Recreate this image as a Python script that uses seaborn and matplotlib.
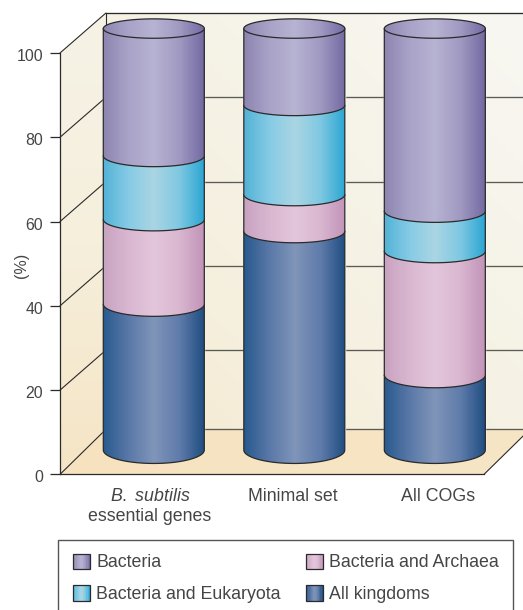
import numpy as np
import pandas as pd
import seaborn as sns
import matplotlib.pyplot as plt
from matplotlib.colors import LinearSegmentedColormap
from matplotlib.legend_handler import HandlerBase
from matplotlib.patches import PathPatch, Rectangle
from matplotlib.path import Path
from matplotlib.transforms import ScaledTranslation

groups = ["B. subtilis essential", "Minimal set", "All COGs"]
group_labels = ["$\\mathit{B.\\ subtilis}$\nessential genes", "Minimal set", "All COGs"]
all_kingdoms = [34.6, 51.9, 17.8]
bacteria_archaea = [20.1, 8.7, 29.4]
bacteria_eukaryota = [15.1, 21.2, 9.5]
bacteria = [30.2, 18.2, 43.3]
y_ticks = [0, 20, 40, 60, 80, 100]

# bottom to top
series = [
    ("All kingdoms", all_kingdoms, ["#285a8e", "#5a78a8", "#8095b9", "#5f7cab", "#1e4c80"]),
    ("Bacteria and Archaea", bacteria_archaea, ["#c8a3c1", "#d9b7d0", "#e3c6dc", "#d9b7d0", "#c192b8"]),
    ("Bacteria and Eukaryota", bacteria_eukaryota, ["#52b2d6", "#86cbe6", "#aad5e3", "#7fc8e2", "#28a5d2"]),
    ("Bacteria", bacteria, ["#8d85b0", "#a9a3c8", "#b7b3d2", "#a09ac2", "#7268a1"]),
]
legend_order = ["Bacteria", "Bacteria and Eukaryota", "Bacteria and Archaea", "All kingdoms"]

LINE = "#2a2a2a"
TEXT = "#454545"
W, H = 523, 610
FONT = 12.8

# perspective offsets, in axis units
CYL_DEPTH = 5.8
BACK_X = 0.327
BACK_Y = 9.5
FLOOR_Y = 10.7
XLIM = (-0.6676, 2.35)


class GradientHandler(HandlerBase):
    def __init__(self, colors):
        super().__init__()
        self.cmap = LinearSegmentedColormap.from_list("g", colors)

    def create_artists(self, legend, orig_handle, xdescent, ydescent, width, height, fontsize, trans):
        x0 = -xdescent + width * 0.1
        w = width * 0.9
        y0 = -ydescent
        artists = []
        n = 14
        for i in range(n):
            artists.append(Rectangle((x0 + w * i / n, y0), w / n + 0.2, height, fc=self.cmap((i + 0.5) / n),
                                     ec="none", transform=trans))
        artists.append(Rectangle((x0, y0), w, height, fc="none", ec=LINE, lw=0.9, transform=trans))
        return artists


def gradient_fill(ax, path, array, cmap, extent, zorder):
    patch = PathPatch(path, transform=ax.transData, fc="none", ec="none")
    ax.add_patch(patch)
    patch.set_clip_on(False)
    im = ax.imshow(array, cmap=cmap, extent=extent, aspect="auto", origin="lower", vmin=0, vmax=1,
                   interpolation="bilinear", zorder=zorder)
    im.set_clip_path(patch)
    im.set_clip_box(ax.figure.bbox)
    return im


def semi_height(level):
    # rims get flatter towards the top of the cylinder
    return (9.7 + 3.8 * (1 - level / 100)) / 4.214


sns.set_style("ticks")
plt.rcParams["font.family"] = ["Liberation Sans", "DejaVu Sans"]
plt.rcParams["mathtext.fontset"] = "custom"
plt.rcParams["mathtext.it"] = "Liberation Sans:italic"
plt.rcParams["mathtext.rm"] = "Liberation Sans"

fig = plt.figure(figsize=(W / 100, H / 100), dpi=100)
ax = fig.add_axes([60 / W, (H - 474.4) / H, 424 / W, 421.4 / H])

df = pd.DataFrame({"group": groups})
bottom = np.zeros(len(groups))
for name, values, stops in series:
    df["value"] = values
    sns.barplot(data=df, x="group", y="value", bottom=bottom + CYL_DEPTH, width=0.719, color=stops[2],
                saturation=1, zorder=3, ax=ax, errorbar=None)
    bottom = bottom + np.array(values)

ax.set_xlim(*XLIM)
ax.set_ylim(0, 100)
ax.set_autoscale_on(False)

# walls and floor
grid = np.linspace(0, 1, 64)
gx, gy = np.meshgrid(grid, grid)
x0, x1 = XLIM
bx0, bx1 = x0 + BACK_X, x1 + BACK_X
ext = (x0, bx1, 0, 100 + BACK_Y)

back_cmap = LinearSegmentedColormap.from_list("back", ["#f5e8cb", "#f5efdd", "#f6f3e8", "#f8f7f2"])
side_cmap = LinearSegmentedColormap.from_list("side", ["#f6e5c6", "#f5efdc", "#f5f2e6"])
floor_cmap = LinearSegmentedColormap.from_list("floor", ["#f6e2bf", "#f6e6c6"])

back = Path([(bx0, FLOOR_Y), (bx0, 100 + BACK_Y), (bx1, 100 + BACK_Y), (bx1, FLOOR_Y), (bx0, FLOOR_Y)])
side = Path([(x0, 0), (x0, 100), (bx0, 100 + BACK_Y), (bx0, FLOOR_Y), (x0, 0)])
floor = Path([(x0, 0), (x1, 0), (bx1, FLOOR_Y), (bx0, FLOOR_Y), (x0, 0)])
gradient_fill(ax, back, (gx * 0.5 + gy * 0.5), back_cmap, ext, 0.2)
gradient_fill(ax, side, gy, side_cmap, ext, 0.3)
gradient_fill(ax, floor, gx, floor_cmap, ext, 0.4)

for tick in y_ticks:
    far = FLOOR_Y if tick == 0 else tick + BACK_Y
    ax.plot([x0, bx0], [tick, far], color=LINE, lw=0.8, clip_on=False, zorder=1)
    ax.plot([bx0, bx1], [far, far], color="#5c5a55" if tick < 100 else LINE, lw=0.95, clip_on=False, zorder=1)
ax.plot([bx0, bx0], [FLOOR_Y, 100 + BACK_Y], color=LINE, lw=0.8, clip_on=False, zorder=1)
ax.plot([x1, bx1], [0, FLOOR_Y], color=LINE, lw=0.8, clip_on=False, zorder=1)

# cylinder segments drawn over the bars, bottom one first
ramp = np.linspace(0, 1, 256).reshape(1, -1)
theta = np.linspace(np.pi, 2 * np.pi, 60)
for k, ((name, values, stops), bars) in enumerate(zip(series, ax.containers)):
    cmap = LinearSegmentedColormap.from_list(name, stops)
    for bar in bars:
        bar.set_clip_on(False)
        left, w = bar.get_x(), bar.get_width()
        y_low, y_high = bar.get_y(), bar.get_y() + bar.get_height()
        arc = semi_height(y_low - CYL_DEPTH)
        xs = left + w / 2 + w / 2 * np.cos(theta)
        ys = y_low + arc * np.sin(theta)
        verts = list(zip(xs, ys)) + [(left + w, y_high), (left, y_high), (left, y_low)]
        path = Path(verts)
        gradient_fill(ax, path, ramp, cmap, (left, left + w, y_low - 6, y_high + 6), 4 + k * 2)
        outline = PathPatch(path, fc="none", ec=LINE, lw=0.9, zorder=5 + k * 2, joinstyle="round")
        ax.add_patch(outline)
        outline.set_clip_on(False)
        if k == len(series) - 1:
            # open top of the cylinder
            arc = semi_height(y_high - CYL_DEPTH)
            t = np.linspace(0, 2 * np.pi, 120)
            top = Path(np.column_stack([left + w / 2 + w / 2 * np.cos(t), y_high + arc * np.sin(t)]))
            gradient_fill(ax, top, ramp, cmap, (left, left + w, y_high - 6, y_high + 6), 20)
            rim = PathPatch(top, fc="none", ec=LINE, lw=0.9, zorder=21)
            ax.add_patch(rim)
            rim.set_clip_on(False)

# axes
sns.despine(ax=ax)
for side_name in ["left", "bottom"]:
    ax.spines[side_name].set_color(LINE)
    ax.spines[side_name].set_linewidth(0.9)
ax.set_yticks(y_ticks)
ax.set_xticks(range(len(groups)))
ax.set_xticklabels(group_labels, fontsize=FONT, color=TEXT, linespacing=1.25)
ax.tick_params(axis="y", length=7.2, width=0.9, color=LINE, labelsize=11.4, labelcolor=TEXT, pad=5)
ax.tick_params(axis="x", length=0, pad=9.5)
for label, shift in zip(ax.get_xticklabels(), [-3.8, -2, 3]):
    label.set_transform(label.get_transform() + ScaledTranslation(shift / 100, 0, fig.dpi_scale_trans))
for label in ax.get_yticklabels():
    label.set_transform(label.get_transform() + ScaledTranslation(0, -2 / 100, fig.dpi_scale_trans))
ax.set_xlabel("")
ax.set_ylabel("(%)", fontsize=11.6, color=TEXT, va="center")
ax.yaxis.set_label_coords(-39 / 424, (474.4 - 265) / 421.4)

# legend
stops_by_name = {name: stops for name, _, stops in series}
handles = [Rectangle((0, 0), 1, 1) for _ in legend_order]
handler_map = {h: GradientHandler(stops_by_name[n]) for h, n in zip(handles, legend_order)}
leg = fig.legend(handles, legend_order, handler_map=handler_map, ncol=2, loc="upper left",
                 bbox_to_anchor=(57.5 / W, (H - 540) / H - 0.05, 455 / W, 0.05), mode="expand", borderaxespad=0,
                 fontsize=FONT, labelcolor=TEXT, fancybox=False, framealpha=1, edgecolor="#555555",
                 handlelength=1.06, handleheight=0.95, handletextpad=0.35, labelspacing=0.78, borderpad=0.77)
leg.get_frame().set_linewidth(1.0)

fig.savefig("out.png", dpi=100)
